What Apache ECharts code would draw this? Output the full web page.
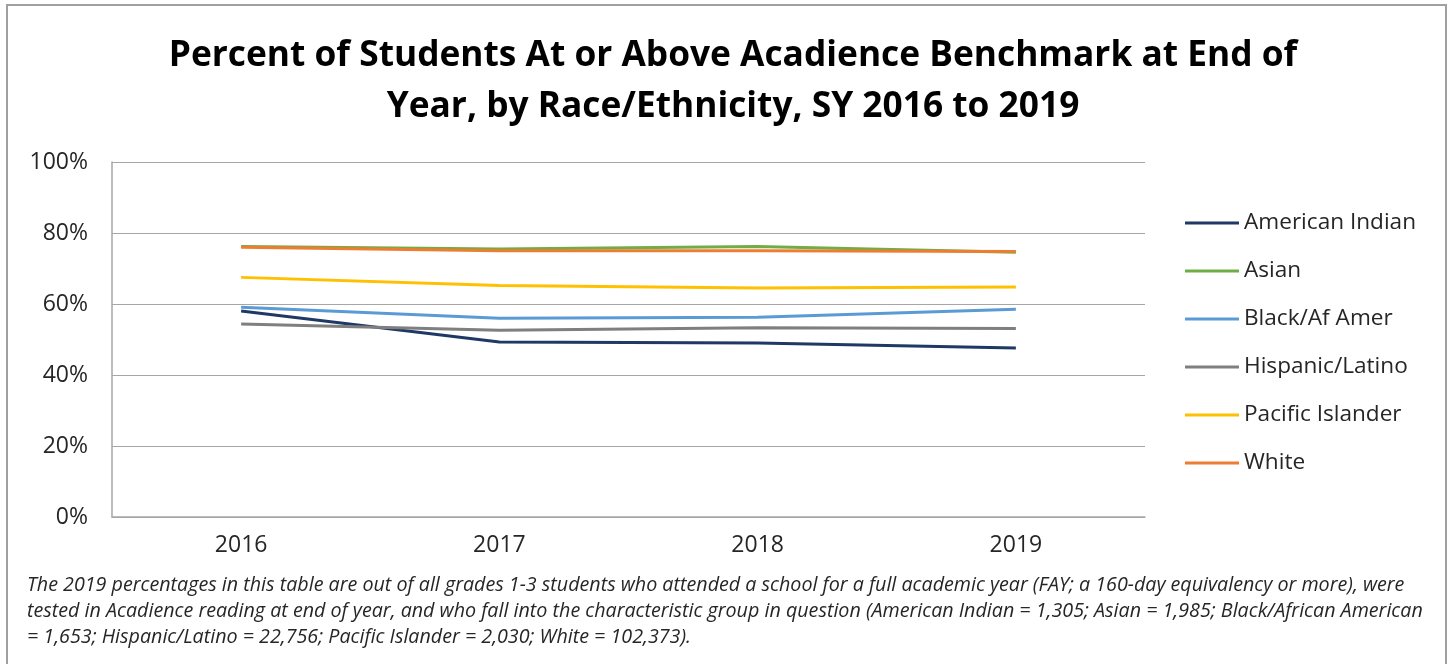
<!DOCTYPE html>
<html>
<head>
<meta charset="utf-8">
<script src="https://cdn.jsdelivr.net/npm/echarts@6/dist/echarts.min.js"></script>
<style>
html,body{margin:0;padding:0;background:#fff;}
#chart{width:1452px;height:664px;}
</style>
</head>
<body>
<div id="chart"></div>
<script>
const categories = ['2016', '2017', '2018', '2019'];
const seriesNames = ['American Indian', 'Asian', 'Black/Af Amer', 'Hispanic/Latino', 'Pacific Islander', 'White'];
const americanIndian = [58.0, 49.3, 49.0, 47.6];
const asian = [76.2, 75.5, 76.2, 74.6];
const blackAfAmer = [59.1, 56.0, 56.3, 58.5];
const hispanicLatino = [54.4, 52.6, 53.3, 53.1];
const pacificIslander = [67.5, 65.2, 64.5, 64.8];
const white = [76.0, 75.0, 75.0, 74.8];
const yTicks = [0, 20, 40, 60, 80, 100];
const titleText = 'Percent of Students At or Above Acadience Benchmark at End of\nYear, by Race/Ethnicity, SY 2016 to 2019';
const noteLines = [
  'The 2019 percentages in this table are out of all grades 1-3 students who attended a school for a full academic year (FAY; a 160-day equivalency or more), were',
  'tested in Acadience reading at end of year, and who fall into the characteristic group in question (American Indian = 1,305; Asian = 1,985; Black/African American',
  '= 1,653; Hispanic/Latino = 22,756; Pacific Islander = 2,030; White = 102,373).'
];

const values = [americanIndian, asian, blackAfAmer, hispanicLatino, pacificIslander, white];
const colors = ['#1f3864', '#70ad47', '#5b9bd5', '#7f7f7f', '#ffc000', '#ed7d31'];
const FONT = '"Open Sans", sans-serif';

const chart = echarts.init(document.getElementById('chart'));
chart.setOption({
  backgroundColor: '#ffffff',
  animation: false,
  color: colors,
  title: {
    text: titleText,
    left: 728,
    top: 25,
    textAlign: 'center',
    textStyle: {fontFamily: FONT, fontWeight: 'bold', fontSize: 35.3, lineHeight: 51, color: '#000000'}
  },
  grid: {left: 112, right: 307, top: 162, bottom: 147, containLabel: false},
  legend: {
    orient: 'vertical',
    left: 1185,
    top: 211,
    padding: 0,
    icon: 'rect',
    itemWidth: 54,
    itemHeight: 3,
    itemGap: 24,
    data: seriesNames,
    textStyle: {fontFamily: FONT, fontSize: 22.6, color: '#262626', lineHeight: 24}
  },
  xAxis: {
    type: 'category',
    data: categories,
    boundaryGap: true,
    axisLine: {show: true, lineStyle: {color: '#a6a6a6', width: 1.5}},
    axisTick: {show: false},
    axisLabel: {fontFamily: FONT, fontSize: 23, color: '#262626', margin: 17}
  },
  yAxis: {
    type: 'value',
    min: yTicks[0],
    max: yTicks[yTicks.length - 1],
    interval: 20,
    axisLine: {show: true, lineStyle: {color: '#a6a6a6', width: 1.5}},
    axisTick: {show: false},
    splitLine: {lineStyle: {color: '#a6a6a6', width: 1.2}},
    axisLabel: {fontFamily: FONT, fontSize: 23, color: '#262626', margin: 24, formatter: '{value}%'}
  },
  series: seriesNames.map((name, i) => ({
    name: name,
    type: 'line',
    data: values[i],
    symbol: 'none',
    showSymbol: false,
    lineStyle: {width: 3, color: colors[i]},
    itemStyle: {color: colors[i]},
    z: 2 + i
  })),
  graphic: [
    {type: 'rect', shape: {x: 7, y: 5, width: 1439, height: 670}, style: {fill: 'none', stroke: '#a0a0a0', lineWidth: 2}, silent: true},
    ...noteLines.map((t, i) => ({
      type: 'text',
      left: 27,
      top: 574 + i * 26,
      style: {text: t, fontFamily: FONT, fontStyle: 'italic', fontSize: 19.7, lineHeight: 22, fill: '#262626'}
    }))
  ]
});
</script>
</body>
</html>
